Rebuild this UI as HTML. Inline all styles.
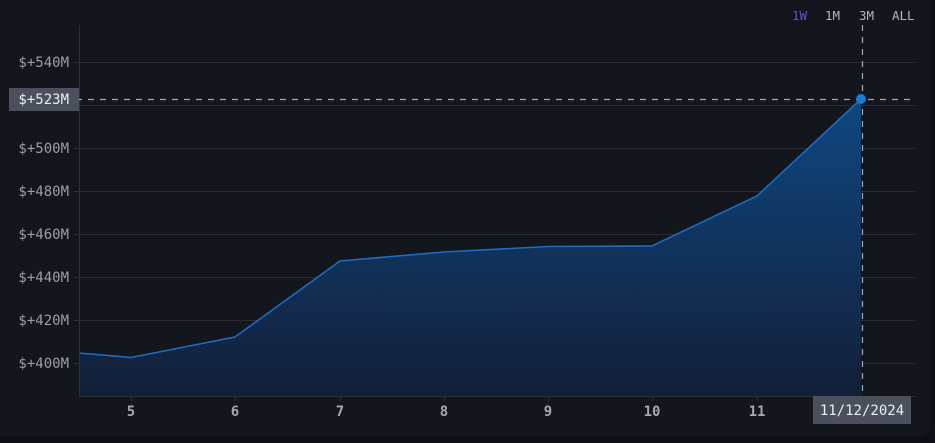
<!DOCTYPE html>
<html><head><meta charset="utf-8"><style>
html,body{margin:0;padding:0;background:#0e1016;}
body{width:935px;height:443px;overflow:hidden;position:relative;}
.panel{position:absolute;left:0;top:0;width:930px;height:436px;background:#14161e;border-radius:0 0 10px 0;}
svg{position:absolute;left:0;top:0;}
text{font-family:"DejaVu Sans Mono","Liberation Mono",monospace;}
</style></head><body>
<div class="panel"></div>
<svg width="935" height="443" viewBox="0 0 935 443" xmlns="http://www.w3.org/2000/svg">
<defs>
<linearGradient id="g" x1="0" y1="99" x2="0" y2="396" gradientUnits="userSpaceOnUse">
<stop offset="0" stop-color="#0e4781"/>
<stop offset="1" stop-color="#131f38"/>
</linearGradient>
</defs>
<g stroke="#2a2d36" stroke-width="1">
<line x1="79" y1="62.5" x2="915" y2="62.5"/>
<line x1="79" y1="105.5" x2="915" y2="105.5"/>
<line x1="79" y1="148.5" x2="915" y2="148.5"/>
<line x1="79" y1="191.5" x2="915" y2="191.5"/>
<line x1="79" y1="234.5" x2="915" y2="234.5"/>
<line x1="79" y1="277.5" x2="915" y2="277.5"/>
<line x1="79" y1="320.5" x2="915" y2="320.5"/>
<line x1="79" y1="363.5" x2="915" y2="363.5"/>
</g>
<path d="M79,353 L131,357.5 L235,337 L340,261 L444,252 L548,246.5 L652,246 L757,196 L861,99 L861,396 L79,396 Z" fill="url(#g)"/>
<path d="M79,353 L131,357.5 L235,337 L340,261 L444,252 L548,246.5 L652,246 L757,196 L861,99" fill="none" stroke="#1c6dc2" stroke-width="1.6"/>
<line x1="79.5" y1="25" x2="79.5" y2="396" stroke="#2e313b"/>
<line x1="79" y1="396.5" x2="915" y2="396.5" stroke="#2e313b"/>
<g stroke="#2e313b">
<line x1="74" y1="62.5" x2="79" y2="62.5"/>
<line x1="74" y1="148.5" x2="79" y2="148.5"/>
<line x1="74" y1="191.5" x2="79" y2="191.5"/>
<line x1="74" y1="234.5" x2="79" y2="234.5"/>
<line x1="74" y1="277.5" x2="79" y2="277.5"/>
<line x1="74" y1="320.5" x2="79" y2="320.5"/>
<line x1="74" y1="363.5" x2="79" y2="363.5"/>
<line x1="131.5" y1="396" x2="131.5" y2="401"/>
<line x1="235.5" y1="396" x2="235.5" y2="401"/>
<line x1="340.5" y1="396" x2="340.5" y2="401"/>
<line x1="444.5" y1="396" x2="444.5" y2="401"/>
<line x1="548.5" y1="396" x2="548.5" y2="401"/>
<line x1="652.5" y1="396" x2="652.5" y2="401"/>
<line x1="757.5" y1="396" x2="757.5" y2="401"/>
</g>
<g fill="#9b9ea6" font-size="14" text-anchor="end">
<text x="69" y="67">$+540M</text>
<text x="69" y="153">$+500M</text>
<text x="69" y="196">$+480M</text>
<text x="69" y="239">$+460M</text>
<text x="69" y="282">$+440M</text>
<text x="69" y="325">$+420M</text>
<text x="69" y="368">$+400M</text>
</g>
<g fill="#a6a8ae" font-size="14" font-weight="bold" text-anchor="middle">
<text x="131" y="416">5</text>
<text x="235" y="416">6</text>
<text x="340" y="416">7</text>
<text x="444" y="416">8</text>
<text x="548" y="416">9</text>
<text x="652" y="416">10</text>
<text x="757" y="416">11</text>
</g>
<line x1="76" y1="99.5" x2="915" y2="99.5" stroke="#a4a8b1" stroke-width="1.2" stroke-dasharray="6,6"/>
<line x1="862.5" y1="25" x2="862.5" y2="396" stroke="#a4a8b1" stroke-width="1.2" stroke-dasharray="6,6"/>
<circle cx="861" cy="99" r="5" fill="#1a7ad6"/>
<rect x="9" y="88" width="70" height="23" fill="#4b505d"/>
<text x="69" y="104" fill="#eceef2" font-size="14" text-anchor="end">$+523M</text>
<rect x="813" y="396" width="98" height="28" fill="#4b505d"/>
<text x="862" y="415" fill="#eceef2" font-size="14" text-anchor="middle">11/12/2024</text>
<g font-size="12.5">
<text x="792" y="20" fill="#6a4fc4">1W</text>
<text x="825" y="20" fill="#b4b6bc">1M</text>
<text x="859" y="20" fill="#b4b6bc">3M</text>
<text x="892" y="20" fill="#b4b6bc">ALL</text>
</g>
</svg>
</body></html>
